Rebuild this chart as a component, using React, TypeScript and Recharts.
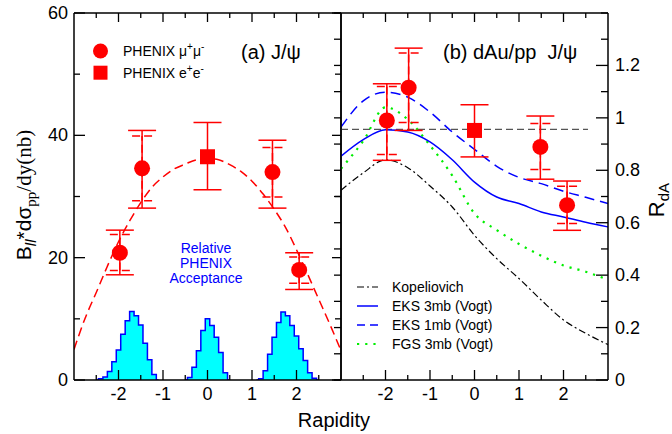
import React from "react";
import {
  Area,
  ComposedChart,
  ErrorBar,
  Line,
  ReferenceLine,
  Scatter,
  XAxis,
  YAxis,
} from "recharts";

const SANS = "'Liberation Sans', Arial, Helvetica, sans-serif";
const SERIF = "'Liberation Serif', 'Times New Roman', serif";
const RED = "#ff0000";
const BLUE = "#0000ff";
const GREEN = "#00ee00";

// ---------- axes ----------
const rapTicks = [-2.5, -2, -1.5, -1, -0.5, 0, 0.5, 1, 1.5, 2, 2.5];
const rapLabels = [-2, -1, 0, 1, 2];
const ppTicks = [0, 10, 20, 30, 40, 50, 60];
const ppLabels = [0, 20, 40, 60];
const rdaTicks = [0, 0.1, 0.2, 0.3, 0.4, 0.5, 0.6, 0.7, 0.8, 0.9, 1, 1.1, 1.2, 1.3, 1.4];
const rdaLabels = [0, 0.2, 0.4, 0.6, 0.8, 1, 1.2];

// ---------- (a) pp cross section ----------
const ppMuX = [-1.97, -1.47, 1.46, 2.06];
const ppMuY = [20.8, 34.6, 34.0, 18.0];
const ppMuHi = [24.5, 40.8, 39.2, 20.8];
const ppMuLo = [17.2, 28.1, 28.1, 14.8];
const ppMuHiIn = [23.8, 39.9, 38.0, 20.1];
const ppMuLoIn = [17.9, 29.3, 29.9, 15.8];

const ppEeX = [0];
const ppEeY = [36.5];
const ppEeHi = [42.1];
const ppEeLo = [31.1];

const fitX = [-3, -2.75, -2.5, -2.25, -2, -1.75, -1.5, -1.25, -1, -0.75, -0.5, -0.25, 0,
  0.25, 0.5, 0.75, 1, 1.25, 1.5, 1.75, 2, 2.25, 2.5, 2.75, 3];
const fitY = [5.0, 10.1, 14.3, 18.6, 22.6, 26.0, 29.0, 31.5, 33.2, 34.5, 35.3, 36.0, 36.2,
  36.0, 35.2, 34.1, 32.5, 30.4, 27.9, 25.0, 21.3, 17.3, 13.2, 9.1, 4.8];

// acceptance histograms (bin centres, heights in plot units)
const acc1X = [-2.5, -2.4, -2.3, -2.2, -2.1, -2.0, -1.9, -1.8, -1.7, -1.6, -1.5, -1.4, -1.3, -1.2, -1.1];
const acc1Y = [0, 0.2, 0.5, 1.4, 3.0, 4.9, 7.5, 9.7, 11.2, 10.5, 9.0, 6.0, 3.3, 0.9, 0];
const acc2X = [-0.5, -0.4, -0.3, -0.2, -0.1, 0, 0.1, 0.2, 0.3, 0.4, 0.5];
const acc2Y = [0, 0.4, 2.1, 4.8, 8.1, 10.0, 8.9, 7.0, 4.5, 1.2, 0];
const acc3X = [1.1, 1.2, 1.3, 1.4, 1.5, 1.6, 1.7, 1.8, 1.9, 2.0, 2.1, 2.2, 2.3, 2.4, 2.5];
const acc3Y = [0, 0.2, 1.5, 4.2, 7.0, 9.4, 11.1, 10.5, 8.9, 7.2, 5.1, 3.2, 1.2, 0.3, 0];

// ---------- (b) dAu/pp ----------
const rdaMuX = [-1.97, -1.48, 1.48, 2.08];
const rdaMuY = [0.99, 1.115, 0.889, 0.667];
const rdaMuHi = [1.13, 1.266, 1.007, 0.759];
const rdaMuLo = [0.838, 0.952, 0.766, 0.571];
const rdaMuHiIn = [1.12, 1.247, 0.978, 0.739];
const rdaMuLoIn = [0.86, 0.982, 0.803, 0.597];

const rdaEeX = [0];
const rdaEeY = [0.952];
const rdaEeHi = [1.05];
const rdaEeLo = [0.851];

const modelX = [-3, -2.5, -2, -1.5, -1, -0.5, 0, 0.5, 1, 1.5, 2, 2.5, 3];
const kopel = [0.724, 0.79, 0.84, 0.81, 0.74, 0.66, 0.552, 0.463, 0.387, 0.305, 0.229, 0.178, 0.135];
const eks3 = [0.854, 0.917, 0.955, 0.946, 0.908, 0.84, 0.755, 0.698, 0.673, 0.641, 0.622, 0.602, 0.584];
const eks1 = [0.965, 1.065, 1.098, 1.079, 1.022, 0.946, 0.88, 0.815, 0.773, 0.749, 0.72, 0.697, 0.673];
const fgs = [0.806, 0.912, 1.04, 0.994, 0.895, 0.78, 0.635, 0.572, 0.519, 0.474, 0.437, 0.413, 0.382];

const unityY = 0.956;
const unityX = [-3, 2.55];

// ---------- build rows ----------
const pts = (xs: number[], ys: number[]) => xs.map((x, i) => ({ x, y: ys[i] }));
const errPts = (
  xs: number[], ys: number[], hi: number[], lo: number[], hiIn?: number[], loIn?: number[]
) =>
  xs.map((x, i) => ({
    x,
    y: ys[i],
    eOut: [ys[i] - lo[i], hi[i] - ys[i]],
    eIn: hiIn && loIn ? [ys[i] - loIn[i], hiIn[i] - ys[i]] : [0, 0],
  }));

const fitData = pts(fitX, fitY);
const acc1 = pts(acc1X, acc1Y);
const acc2 = pts(acc2X, acc2Y);
const acc3 = pts(acc3X, acc3Y);
const ppMu = errPts(ppMuX, ppMuY, ppMuHi, ppMuLo, ppMuHiIn, ppMuLoIn);
const ppEe = errPts(ppEeX, ppEeY, ppEeHi, ppEeLo);
const rdaMu = errPts(rdaMuX, rdaMuY, rdaMuHi, rdaMuLo, rdaMuHiIn, rdaMuLoIn);
const rdaEe = errPts(rdaEeX, rdaEeY, rdaEeHi, rdaEeLo);
const kopelData = pts(modelX, kopel);
const eks3Data = pts(modelX, eks3);
const eks1Data = pts(modelX, eks1);
const fgsData = pts(modelX, fgs);

// ---------- ticks (all pointing inwards) ----------
const bottomTick = (p: any) => {
  const v = p.payload.value;
  const major = Number.isInteger(v);
  return (
    <g>
      <line x1={p.x} x2={p.x} y1={p.y} y2={p.y - (major ? 10 : 5)} stroke="#000" strokeWidth={1.3} />
      {rapLabels.includes(v) && (
        <text x={p.x} y={p.y + 20} textAnchor="middle" fontSize={18} fontFamily={SANS} fill="#000">
          {v}
        </text>
      )}
    </g>
  );
};

const topTick = (p: any) => {
  const major = Number.isInteger(p.payload.value);
  return <line x1={p.x} x2={p.x} y1={p.y} y2={p.y + (major ? 9 : 5)} stroke="#000" strokeWidth={1.3} />;
};

const ppLeftTick = (p: any) => {
  const v = p.payload.value;
  const major = ppLabels.includes(v);
  return (
    <g>
      <line x1={p.x} x2={p.x + (major ? 11 : 6)} y1={p.y} y2={p.y} stroke="#000" strokeWidth={1.3} />
      {major && (
        <text x={p.x - 6} y={p.y + 6} textAnchor="end" fontSize={18} fontFamily={SANS} fill="#000">
          {v}
        </text>
      )}
    </g>
  );
};

const ppRightTick = (p: any) => {
  const major = ppLabels.includes(p.payload.value);
  return <line x1={p.x} x2={p.x - (major ? 9 : 6)} y1={p.y} y2={p.y} stroke="#000" strokeWidth={1.3} />;
};

// right panel, left frame: ticks stick out to the left of the shared border
const rdaInnerTick = (p: any) => (
  <line x1={p.x} x2={p.x - 7} y1={p.y} y2={p.y} stroke="#000" strokeWidth={1.3} />
);

const rdaRightTick = (p: any) => {
  const v = p.payload.value;
  const major = rdaLabels.includes(v);
  return (
    <g>
      <line x1={p.x} x2={p.x - (major ? 12 : 7)} y1={p.y} y2={p.y} stroke="#000" strokeWidth={1.3} />
      {major && (
        <text x={p.x + 7} y={p.y + 6} textAnchor="start" fontSize={18} fontFamily={SANS} fill="#000">
          {v}
        </text>
      )}
    </g>
  );
};

const circleShape = (p: any) => <circle cx={p.cx} cy={p.cy} r={8} fill={RED} />;
const squareShape = (p: any) => <rect x={p.cx - 7.5} y={p.cy - 7.5} width={15} height={15} fill={RED} />;

const axisLine = { stroke: "#000", strokeWidth: 1.5 };

const commonX = {
  dataKey: "x",
  type: "number" as const,
  domain: [-3, 3],
  ticks: rapTicks,
  interval: 0 as const,
  height: 1,
  tickSize: 0,
  tickMargin: 0,
  tickLine: false,
  axisLine,
  allowDataOverflow: true,
};

const commonY = {
  type: "number" as const,
  interval: 0 as const,
  tickSize: 0,
  tickMargin: 0,
  tickLine: false,
  axisLine,
  allowDataOverflow: true,
};

export default function App() {
  return (
    <div style={{ position: "absolute", left: 0, top: 0, width: 672, height: 434, background: "#fff" }}>
      {/* (a) pp */}
      <div style={{ position: "absolute", left: 0, top: 0 }}>
        <ComposedChart width={343} height={434} margin={{ top: 12, right: 1, bottom: 53, left: 0 }}>
          <XAxis {...commonX} tick={bottomTick} />
          <XAxis {...commonX} xAxisId="top" orientation="top" tick={topTick} />
          <YAxis {...commonY} domain={[0, 60]} ticks={ppTicks} width={74} tick={ppLeftTick} />
          <YAxis {...commonY} yAxisId="r" orientation="right" domain={[0, 60]} ticks={ppTicks}
            width={1} tick={ppRightTick} />
          {[acc1, acc2, acc3].map((d, i) => (
            <Area key={i} data={d} dataKey="y" type="step" fill="#00ffff" fillOpacity={1}
              stroke={BLUE} strokeWidth={1.5} dot={false} activeDot={false} isAnimationActive={false} />
          ))}
          <Line data={fitData} dataKey="y" xAxisId="top" yAxisId="r" type="monotone" stroke={RED}
            strokeWidth={1.5} strokeDasharray="9 5" dot={false} activeDot={false} isAnimationActive={false} />
          <Scatter data={ppMu} dataKey="y" shape={circleShape} isAnimationActive={false}>
            <ErrorBar dataKey="eOut" direction="y" width={14} stroke={RED} strokeWidth={1.5} />
            <ErrorBar dataKey="eIn" direction="y" width={10} stroke={RED} strokeWidth={1.5} strokeDasharray="8 4" />
          </Scatter>
          <Scatter data={ppEe} dataKey="y" shape={squareShape} isAnimationActive={false}>
            <ErrorBar dataKey="eOut" direction="y" width={14} stroke={RED} strokeWidth={1.5} />
          </Scatter>
        </ComposedChart>
      </div>

      {/* (b) dAu/pp */}
      <div style={{ position: "absolute", left: 331, top: 0 }}>
        <ComposedChart width={341} height={434} margin={{ top: 12, right: 0, bottom: 53, left: 0 }}>
          <XAxis {...commonX} tick={bottomTick} />
          <XAxis {...commonX} xAxisId="top" orientation="top" tick={topTick} />
          <YAxis {...commonY} domain={[0, 1.4]} ticks={rdaTicks} width={10} tick={rdaInnerTick} />
          <YAxis {...commonY} yAxisId="r" orientation="right" domain={[0, 1.4]} ticks={rdaTicks}
            width={64} tick={rdaRightTick} />
          <ReferenceLine
            segment={[{ x: unityX[0], y: unityY }, { x: unityX[1], y: unityY }]}
            stroke="#555" strokeWidth={1.3} strokeDasharray="7 4" />
          <Line data={kopelData} dataKey="y" xAxisId="top" type="monotone" stroke="#000" strokeWidth={1.2}
            strokeDasharray="7 3 2 3" dot={false} activeDot={false} isAnimationActive={false} />
          <Line data={fgsData} dataKey="y" xAxisId="top" type="monotone" stroke={GREEN} strokeWidth={2.2}
            strokeDasharray="2.2 6" dot={false} activeDot={false} isAnimationActive={false} />
          <Line data={eks3Data} dataKey="y" xAxisId="top" type="monotone" stroke={BLUE} strokeWidth={1.5}
            dot={false} activeDot={false} isAnimationActive={false} />
          <Line data={eks1Data} dataKey="y" xAxisId="top" type="monotone" stroke={BLUE} strokeWidth={1.5}
            strokeDasharray="10 6" dot={false} activeDot={false} isAnimationActive={false} />
          <Scatter data={rdaMu} dataKey="y" yAxisId="r" shape={circleShape} isAnimationActive={false}>
            <ErrorBar dataKey="eOut" direction="y" width={14} stroke={RED} strokeWidth={1.5} />
            <ErrorBar dataKey="eIn" direction="y" width={10} stroke={RED} strokeWidth={1.5} strokeDasharray="8 4" />
          </Scatter>
          <Scatter data={rdaEe} dataKey="y" yAxisId="r" shape={squareShape} isAnimationActive={false}>
            <ErrorBar dataKey="eOut" direction="y" width={14} stroke={RED} strokeWidth={1.5} />
          </Scatter>
        </ComposedChart>
      </div>

      {/* labels, legends, annotations */}
      <svg width={672} height={434} style={{ position: "absolute", left: 0, top: 0, pointerEvents: "none" }}
        fontFamily={SANS}>
        <circle cx={100.5} cy={51} r={7.5} fill={RED} />
        <rect x={93.5} y={65.7} width={14} height={14} fill={RED} />
        <text x={123} y={56} fontSize={14}>
          PHENIX μ<tspan dy={-6} fontSize={10}>+</tspan>
          <tspan dy={6}>μ</tspan>
          <tspan dy={-6} fontSize={10}>-</tspan>
        </text>
        <text x={123} y={78} fontSize={14}>
          PHENIX e<tspan dy={-6} fontSize={10}>+</tspan>
          <tspan dy={6}>e</tspan>
          <tspan dy={-6} fontSize={10}>-</tspan>
        </text>
        <text x={241} y={59} fontSize={20}>(a) J/ψ</text>
        <text x={443} y={59} fontSize={20} style={{ whiteSpace: "pre" }}>(b) dAu/pp  J/ψ</text>

        <g fill={BLUE} fontSize={14} textAnchor="middle">
          <text x={206} y={253}>Relative</text>
          <text x={206} y={268}>PHENIX</text>
          <text x={206} y={283}>Acceptance</text>
        </g>

        <g fontSize={14}>
          <line x1={357} x2={378} y1={287} y2={287} stroke="#000" strokeWidth={1.2} strokeDasharray="7 3 2 3" />
          <text x={392} y={292}>Kopeliovich</text>
          <line x1={357} x2={378} y1={306} y2={306} stroke={BLUE} strokeWidth={1.5} />
          <text x={392} y={311}>EKS 3mb (Vogt)</text>
          <line x1={357} x2={378} y1={325} y2={325} stroke={BLUE} strokeWidth={1.5} strokeDasharray="8 5" />
          <text x={392} y={330}>EKS 1mb (Vogt)</text>
          <line x1={357} x2={379} y1={344} y2={344} stroke={GREEN} strokeWidth={2.2} strokeDasharray="2.2 6" />
          <text x={392} y={349}>FGS 3mb (Vogt)</text>
        </g>

        <text x={334} y={427} fontSize={20} textAnchor="middle">Rapidity</text>

        <text transform="rotate(-90 31 195)" x={31} y={195} fontSize={21} textAnchor="middle">
          B<tspan dy={5} fontSize={15} fontStyle="italic">ll</tspan>
          <tspan dy={-5}>*dσ</tspan>
          <tspan dy={5} fontSize={15} fontFamily={SERIF}>pp</tspan>
          <tspan dy={-5} fontFamily={SERIF}>/dy(nb)</tspan>
        </text>
        <text transform="rotate(-90 664 200)" x={664} y={200} fontSize={22} textAnchor="middle">
          R<tspan dy={5} fontSize={15}>dA</tspan>
        </text>
      </svg>
    </div>
  );
}
